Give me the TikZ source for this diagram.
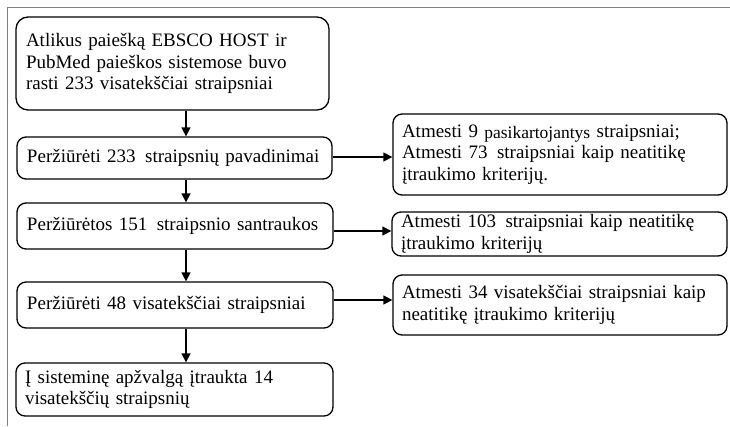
\documentclass[tikz,border=0pt]{standalone}
\usepackage{fontspec}
\setmainfont[WordSpace=0.85]{Liberation Serif}
\usetikzlibrary{arrows.meta}
\begin{document}
\begin{tikzpicture}[x=1pt,y=-1pt,
  box/.style={draw=black, line width=1.3pt, rounded corners=9pt, fill=white,
    align=left, inner xsep=10pt, inner ysep=0pt,
    font=\fontsize{19}{21.5}\selectfont},
  arr/.style={line width=1.4pt, -{Triangle[length=9pt,width=9pt]}},
  frame/.style={draw=black!50, line width=0.9pt}]
\useasboundingbox (0,0) rectangle (730,426);
\draw[frame] (730,7) -- (7,7) -- (7,426);
\coordinate (ax) at (186,0);
\node[box, rounded corners=12pt, minimum width=313pt, minimum height=93pt, text width=293pt] (b1) at (172.5,63.5)
  {Atlikus paiešką EBSCO HOST ir\\PubMed paieškos sistemose buvo\\rasti 233 visatekščiai straipsniai};
\node[box, minimum width=315pt, minimum height=42pt, text width=295pt] (b2) at (174.5,158)
  {Peržiūrėti 233 \,straipsnių pavadinimai};
\node[box, minimum width=316pt, minimum height=46pt, text width=296pt] (b3) at (175,226)
  {Peržiūrėtos 151 \,straipsnio santraukos};
\node[box, minimum width=316pt, minimum height=46pt, text width=296pt] (b4) at (175,305)
  {Peržiūrėti 48 visatekščiai straipsniai};
\node[box, minimum width=317pt, minimum height=53pt, text width=299pt, inner xsep=9pt] (b5) at (174.5,389.5)
  {Į sisteminę apžvalgą įtraukta 14\\visatekščių straipsnių};
\node[box, inner xsep=9pt, minimum width=334pt, minimum height=81pt, text width=316pt] (r1) at (560,154.5)
  {Atmesti 9 {\fontsize{17.5}{21.5}\selectfont\raisebox{-1pt}{pasikartojantys}} straipsniai;\\Atmesti 73 \,straipsniai kaip neatitikę\\įtraukimo kriterijų.};
\node[box, inner xsep=9pt, minimum width=335pt, minimum height=44pt, text width=317pt] (r2) at (559.5,234)
  {Atmesti 103 \,straipsniai kaip neatitikę\\įtraukimo kriterijų};
\node[box, inner xsep=9pt, minimum width=334pt, minimum height=60pt, text width=316pt] (r3) at (560,305)
  {Atmesti 34 visatekščiai straipsniai kaip\\neatitikę įtraukimo kriterijų};
\draw[arr] (b1.south -| ax) -- (b2.north -| ax);
\draw[arr] (b2.south -| ax) -- (b3.north -| ax);
\draw[arr] (b3.south -| ax) -- (b4.north -| ax);
\draw[arr] (b4.south -| ax) -- (b5.north -| ax);
\draw[arr] ([yshift=1pt]b2.east) -- ([yshift=1pt]b2.east -| r1.west);
\draw[arr] ([yshift=-5pt]b3.east) -- ([yshift=-5pt]b3.east -| r2.west);
\draw[arr] ([yshift=5pt]b4.east) -- ([yshift=5pt]b4.east -| r3.west);
\end{tikzpicture}
\end{document}
